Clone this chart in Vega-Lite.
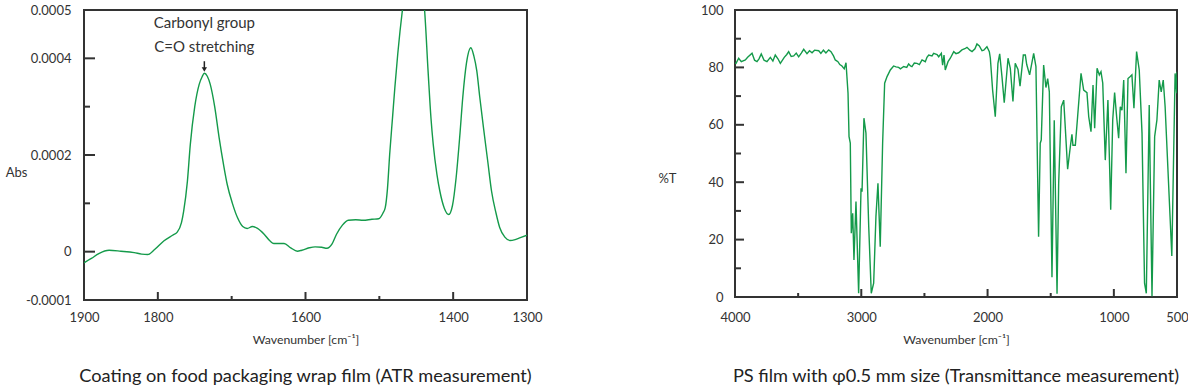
{
  "$schema": "https://vega.github.io/schema/vega-lite/v6.json",
  "padding": {"left": 4, "top": 3, "right": 0, "bottom": 0},
  "spacing": 112,
  "config": {
    "view": {"stroke": "#333", "strokeWidth": 2},
    "font": "Lato",
    "axis": {"domain": false, "ticks": false, "labelFont": "Lato", "labelFontSize": 13, "labelColor": "#333", "titleFont": "Lato", "titleColor": "#333", "titleFontWeight": "normal", "grid": false, "labelOverlap": false, "labelFlush": false},
    "title": {"font": "Lato", "fontSize": 18.2, "fontWeight": "normal", "color": "#222"}
  },
  "datasets": {
    "atr": [
      {"wn":1900,"abs":-0.000023},{"wn":1890,"abs":-0.000014},{"wn":1880,"abs":-0.000004},{"wn":1866,"abs":0.000003},{"wn":1850,"abs":0.000001},{"wn":1832,"abs":-0.000002},{"wn":1822,"abs":-0.000005},{"wn":1814,"abs":-0.000006},{"wn":1804,"abs":0.000005},{"wn":1792,"abs":0.000022},{"wn":1780,"abs":0.000034},{"wn":1774,"abs":0.000040},{"wn":1768,"abs":0.000060},{"wn":1765,"abs":0.000084},{"wn":1760,"abs":0.000145},{"wn":1756,"abs":0.000222},{"wn":1750,"abs":0.000300},{"wn":1744,"abs":0.000346},{"wn":1740,"abs":0.000362},{"wn":1737,"abs":0.000369},{"wn":1733,"abs":0.000363},{"wn":1729,"abs":0.000346},{"wn":1723,"abs":0.000300},{"wn":1717,"abs":0.000236},{"wn":1711,"abs":0.000180},{"wn":1706,"abs":0.000139},{"wn":1699,"abs":0.000100},{"wn":1692,"abs":0.000070},{"wn":1685,"abs":0.000052},{"wn":1679,"abs":0.000048},{"wn":1672,"abs":0.000052},{"wn":1665,"abs":0.000048},{"wn":1656,"abs":0.000036},{"wn":1648,"abs":0.000022},{"wn":1643,"abs":0.000017},{"wn":1635,"abs":0.000017},{"wn":1629,"abs":0.000017},{"wn":1620,"abs":0.000008},{"wn":1611,"abs":0.000001},{"wn":1605,"abs":0.000003},{"wn":1595,"abs":0.000008},{"wn":1587,"abs":0.000010},{"wn":1578,"abs":0.000009},{"wn":1571,"abs":0.000007},{"wn":1564,"abs":0.000016},{"wn":1558,"abs":0.000036},{"wn":1550,"abs":0.000055},{"wn":1542,"abs":0.000065},{"wn":1532,"abs":0.000066},{"wn":1522,"abs":0.000065},{"wn":1510,"abs":0.000067},{"wn":1501,"abs":0.000068},{"wn":1495,"abs":0.000080},{"wn":1492,"abs":0.000091},{"wn":1489,"abs":0.000130},{"wn":1486,"abs":0.000201},{"wn":1482,"abs":0.000280},{"wn":1479,"abs":0.000339},{"wn":1475,"abs":0.000410},{"wn":1472,"abs":0.000456},{"wn":1468,"abs":0.000510},{"wn":1462,"abs":0.000580},{"wn":1455,"abs":0.000620},{"wn":1448,"abs":0.000590},{"wn":1442,"abs":0.000540},{"wn":1439,"abs":0.000505},{"wn":1434,"abs":0.000374},{"wn":1430,"abs":0.000275},{"wn":1427,"abs":0.000222},{"wn":1422,"abs":0.000160},{"wn":1418,"abs":0.000125},{"wn":1412,"abs":0.000090},{"wn":1406,"abs":0.000077},{"wn":1401,"abs":0.000095},{"wn":1396,"abs":0.000153},{"wn":1391,"abs":0.000240},{"wn":1387,"abs":0.000319},{"wn":1382,"abs":0.000390},{"wn":1376,"abs":0.000422},{"wn":1372,"abs":0.000405},{"wn":1368,"abs":0.000374},{"wn":1364,"abs":0.000320},{"wn":1359,"abs":0.000257},{"wn":1353,"abs":0.000185},{"wn":1348,"abs":0.000125},{"wn":1342,"abs":0.000080},{"wn":1337,"abs":0.000050},{"wn":1330,"abs":0.000030},{"wn":1323,"abs":0.000023},{"wn":1316,"abs":0.000025},{"wn":1309,"abs":0.000029},{"wn":1300,"abs":0.000034}
    ],
    "ann": [
      {"wn":1737,"abs":0.000474,"label":"Carbonyl group"},
      {"wn":1737,"abs":0.000423,"label":"C=O stretching"}
    ],
    "arrow": [{"wn":1737,"top":0.000394,"bottom":0.000380,"head":0.000377}],
    "atrXMajor": [{"wn":1800},{"wn":1600},{"wn":1400}],
    "atrXMinor": [{"wn":1700},{"wn":1500}],
    "atrYMajor": [{"abs":0},{"abs":0.0002},{"abs":0.0004}],
    "atrYMinor": [{"abs":0.0001},{"abs":0.0003}],
    "psXMajor": [{"wn":3000},{"wn":2000},{"wn":1000}],
    "psXMinor": [{"wn":3500},{"wn":2500},{"wn":1500}],
    "psYMajor": [{"t":20},{"t":40},{"t":60},{"t":80}],
    "psYMinor": [{"t":10},{"t":30},{"t":50},{"t":70},{"t":90}],
    "ps": [
      {"wn":4000,"t":81.5},{"wn":3992,"t":81.4},{"wn":3971,"t":83.2},{"wn":3950,"t":82.0},{"wn":3918,"t":82.6},{"wn":3900,"t":83.5},{"wn":3865,"t":84.9},{"wn":3845,"t":82.5},{"wn":3826,"t":82.0},{"wn":3810,"t":83.0},{"wn":3792,"t":84.7},{"wn":3770,"t":82.5},{"wn":3747,"t":82.0},{"wn":3720,"t":83.5},{"wn":3700,"t":82.2},{"wn":3681,"t":84.3},{"wn":3660,"t":83.0},{"wn":3641,"t":81.4},{"wn":3610,"t":83.5},{"wn":3590,"t":84.5},{"wn":3575,"t":85.5},{"wn":3555,"t":83.8},{"wn":3535,"t":84.0},{"wn":3515,"t":85.0},{"wn":3496,"t":83.7},{"wn":3475,"t":85.0},{"wn":3456,"t":86.3},{"wn":3430,"t":84.8},{"wn":3410,"t":85.8},{"wn":3390,"t":85.1},{"wn":3370,"t":86.0},{"wn":3337,"t":85.8},{"wn":3320,"t":84.9},{"wn":3300,"t":86.0},{"wn":3280,"t":85.0},{"wn":3258,"t":86.1},{"wn":3240,"t":85.5},{"wn":3220,"t":84.0},{"wn":3206,"t":82.6},{"wn":3185,"t":82.0},{"wn":3170,"t":81.0},{"wn":3153,"t":80.5},{"wn":3135,"t":79.5},{"wn":3121,"t":81.6},{"wn":3105,"t":71.0},{"wn":3097,"t":55.9},{"wn":3087,"t":53.6},{"wn":3079,"t":22.2},{"wn":3068,"t":29.2},{"wn":3058,"t":12.9},{"wn":3042,"t":33.3},{"wn":3021,"t":1.3},{"wn":3002,"t":37.9},{"wn":2994,"t":36.7},{"wn":2979,"t":62.3},{"wn":2963,"t":57.1},{"wn":2941,"t":24.5},{"wn":2921,"t":1.3},{"wn":2902,"t":4.8},{"wn":2884,"t":28.0},{"wn":2868,"t":39.6},{"wn":2850,"t":17.5},{"wn":2831,"t":53.6},{"wn":2815,"t":74.5},{"wn":2796,"t":76.8},{"wn":2770,"t":79.1},{"wn":2744,"t":80.5},{"wn":2725,"t":80.2},{"wn":2704,"t":80.0},{"wn":2690,"t":79.5},{"wn":2664,"t":80.3},{"wn":2640,"t":80.0},{"wn":2625,"t":81.2},{"wn":2610,"t":80.5},{"wn":2599,"t":80.3},{"wn":2580,"t":81.5},{"wn":2559,"t":81.4},{"wn":2540,"t":81.0},{"wn":2519,"t":82.6},{"wn":2493,"t":82.0},{"wn":2480,"t":83.5},{"wn":2466,"t":84.3},{"wn":2440,"t":84.0},{"wn":2427,"t":84.9},{"wn":2400,"t":84.5},{"wn":2387,"t":83.7},{"wn":2366,"t":84.9},{"wn":2356,"t":80.8},{"wn":2345,"t":84.3},{"wn":2335,"t":79.1},{"wn":2313,"t":82.0},{"wn":2295,"t":83.2},{"wn":2268,"t":85.5},{"wn":2250,"t":84.8},{"wn":2229,"t":85.1},{"wn":2203,"t":86.1},{"wn":2180,"t":86.5},{"wn":2163,"t":87.0},{"wn":2140,"t":86.0},{"wn":2123,"t":85.5},{"wn":2100,"t":86.5},{"wn":2084,"t":88.2},{"wn":2065,"t":87.5},{"wn":2044,"t":85.8},{"wn":2030,"t":86.0},{"wn":2005,"t":87.2},{"wn":1986,"t":85.5},{"wn":1978,"t":83.2},{"wn":1960,"t":72.1},{"wn":1939,"t":62.8},{"wn":1918,"t":81.4},{"wn":1904,"t":84.7},{"wn":1886,"t":76.8},{"wn":1868,"t":67.7},{"wn":1838,"t":83.2},{"wn":1820,"t":79.7},{"wn":1799,"t":68.1},{"wn":1781,"t":81.4},{"wn":1759,"t":79.3},{"wn":1743,"t":73.5},{"wn":1717,"t":84.3},{"wn":1701,"t":84.3},{"wn":1690,"t":81.0},{"wn":1667,"t":77.4},{"wn":1635,"t":84.9},{"wn":1617,"t":80.3},{"wn":1596,"t":21.0},{"wn":1583,"t":53.6},{"wn":1575,"t":54.7},{"wn":1556,"t":80.8},{"wn":1538,"t":73.0},{"wn":1524,"t":76.1},{"wn":1511,"t":71.5},{"wn":1490,"t":6.9},{"wn":1472,"t":61.6},{"wn":1450,"t":1.1},{"wn":1437,"t":39.6},{"wn":1416,"t":66.3},{"wn":1397,"t":68.6},{"wn":1385,"t":59.3},{"wn":1366,"t":44.5},{"wn":1345,"t":52.3},{"wn":1332,"t":56.7},{"wn":1324,"t":52.9},{"wn":1305,"t":52.9},{"wn":1287,"t":62.8},{"wn":1260,"t":77.9},{"wn":1239,"t":72.1},{"wn":1213,"t":71.2},{"wn":1199,"t":62.8},{"wn":1181,"t":57.6},{"wn":1165,"t":73.9},{"wn":1152,"t":58.8},{"wn":1133,"t":79.7},{"wn":1115,"t":77.4},{"wn":1102,"t":78.5},{"wn":1088,"t":74.5},{"wn":1068,"t":47.7},{"wn":1047,"t":68.6},{"wn":1025,"t":30.4},{"wn":1009,"t":61.7},{"wn":994,"t":71.2},{"wn":978,"t":62.8},{"wn":962,"t":55.3},{"wn":949,"t":66.3},{"wn":936,"t":65.1},{"wn":922,"t":75.6},{"wn":904,"t":43.1},{"wn":888,"t":76.1},{"wn":870,"t":76.8},{"wn":857,"t":77.4},{"wn":841,"t":65.8},{"wn":820,"t":85.5},{"wn":799,"t":79.1},{"wn":777,"t":57.1},{"wn":757,"t":4.8},{"wn":743,"t":1.3},{"wn":720,"t":66.9},{"wn":698,"t":0.3},{"wn":677,"t":55.9},{"wn":659,"t":61.7},{"wn":641,"t":75.6},{"wn":625,"t":71.5},{"wn":609,"t":75.6},{"wn":594,"t":66.3},{"wn":541,"t":14.3},{"wn":515,"t":77.9},{"wn":503,"t":71.0},{"wn":500,"t":78.5}
    ]
  },
  "hconcat": [
    {
      "width": 443,
      "height": 290,
      "title": {"text": "Coating on food packaging wrap film (ATR measurement)", "orient": "bottom", "anchor": "middle", "offset": 23},
      "layer": [
        {
          "data": {"name": "atr"},
          "mark": {"type": "line", "color": "#149a4a", "strokeWidth": 1.4, "clip": true, "interpolate": "monotone"},
          "encoding": {
            "x": {"field": "wn", "type": "quantitative",
              "scale": {"domain": [1300, 1900], "reverse": true, "nice": false, "zero": false},
              "axis": {"values": [1900,1800,1600,1400,1300], "format": "d",
                "labelPadding": 11, "title": "Wavenumber [cm⁻¹]", "titleFontSize": 12.3, "titlePadding": 9}},
            "y": {"field": "abs", "type": "quantitative",
              "scale": {"domain": [-0.0001, 0.0005], "nice": false, "zero": false},
              "axis": {"values": [-0.0001,0,0.0002,0.0004,0.0005],
                "labelExpr": "datum.value === 0.0005 ? '0.0005' : datum.value === 0.0004 ? '0.0004' : datum.value === 0.0002 ? '0.0002' : datum.value === 0 ? '0' : '-0.0001'",
                "labelPadding": 13, "title": "Abs", "titleAngle": 0, "titleX": -68, "titleY": 162, "titleAlign": "center", "titleBaseline": "middle", "titleFontSize": 13}}
          }
        },
        {
          "data": {"name": "atrXMajor"},
          "mark": {"type": "rule", "color": "#333", "strokeWidth": 2, "y2Offset": -8},
          "encoding": {
            "x": {"field": "wn", "type": "quantitative"},
            "y": {"datum": -0.0001, "type": "quantitative"},
            "y2": {"datum": -0.0001}
          }
        },
        {
          "data": {"name": "atrXMinor"},
          "mark": {"type": "rule", "color": "#333", "strokeWidth": 2, "y2Offset": -4},
          "encoding": {
            "x": {"field": "wn", "type": "quantitative"},
            "y": {"datum": -0.0001, "type": "quantitative"},
            "y2": {"datum": -0.0001}
          }
        },
        {
          "data": {"name": "atrYMajor"},
          "mark": {"type": "rule", "color": "#333", "strokeWidth": 2, "x2Offset": 11},
          "encoding": {
            "y": {"field": "abs", "type": "quantitative"},
            "x": {"datum": 1900, "type": "quantitative"},
            "x2": {"datum": 1900}
          }
        },
        {
          "data": {"name": "atrYMinor"},
          "mark": {"type": "rule", "color": "#333", "strokeWidth": 2, "x2Offset": 6},
          "encoding": {
            "y": {"field": "abs", "type": "quantitative"},
            "x": {"datum": 1900, "type": "quantitative"},
            "x2": {"datum": 1900}
          }
        },
        {
          "data": {"name": "ann"},
          "mark": {"type": "text", "font": "Lato", "fontSize": 15, "color": "#333", "align": "center", "baseline": "middle"},
          "encoding": {
            "x": {"field": "wn", "type": "quantitative"},
            "y": {"field": "abs", "type": "quantitative"},
            "text": {"field": "label"}
          }
        },
        {
          "data": {"name": "arrow"},
          "mark": {"type": "rule", "color": "#222", "strokeWidth": 1.5},
          "encoding": {
            "x": {"field": "wn", "type": "quantitative"},
            "y": {"field": "top", "type": "quantitative"},
            "y2": {"field": "bottom"}
          }
        },
        {
          "data": {"name": "arrow"},
          "mark": {"type": "point", "shape": "triangle-down", "filled": true, "color": "#222", "size": 28, "opacity": 1},
          "encoding": {
            "x": {"field": "wn", "type": "quantitative"},
            "y": {"field": "head", "type": "quantitative"}
          }
        }
      ]
    },
    {
      "width": 442,
      "height": 287,
      "title": {"text": "PS film with φ0.5 mm size (Transmittance measurement)", "orient": "bottom", "anchor": "middle", "offset": 23},
      "layer": [
        {
          "data": {"name": "ps"},
          "mark": {"type": "line", "color": "#149a4a", "strokeWidth": 1.4, "clip": true},
          "encoding": {
            "x": {"field": "wn", "type": "quantitative",
              "scale": {"domain": [500, 4000], "reverse": true, "nice": false, "zero": false},
              "axis": {"values": [4000,3000,2000,1000,500], "format": "d",
                "labelPadding": 14, "title": "Wavenumber [cm⁻¹]", "titleFontSize": 12.3, "titlePadding": 9}},
            "y": {"field": "t", "type": "quantitative",
              "scale": {"domain": [0, 100], "nice": false},
              "axis": {"values": [0,20,40,60,80,100],
                "labelPadding": 12, "title": "%T", "titleAngle": 0, "titleX": -68, "titleY": 168, "titleAlign": "center", "titleBaseline": "middle", "titleFontSize": 13}}
          }
        },
        {
          "data": {"name": "psXMajor"},
          "mark": {"type": "rule", "color": "#333", "strokeWidth": 2, "y2Offset": -8},
          "encoding": {
            "x": {"field": "wn", "type": "quantitative"},
            "y": {"datum": 0, "type": "quantitative"},
            "y2": {"datum": 0}
          }
        },
        {
          "data": {"name": "psXMinor"},
          "mark": {"type": "rule", "color": "#333", "strokeWidth": 2, "y2Offset": -4},
          "encoding": {
            "x": {"field": "wn", "type": "quantitative"},
            "y": {"datum": 0, "type": "quantitative"},
            "y2": {"datum": 0}
          }
        },
        {
          "data": {"name": "psYMajor"},
          "mark": {"type": "rule", "color": "#333", "strokeWidth": 2, "x2Offset": 9},
          "encoding": {
            "y": {"field": "t", "type": "quantitative"},
            "x": {"datum": 4000, "type": "quantitative"},
            "x2": {"datum": 4000}
          }
        },
        {
          "data": {"name": "psYMinor"},
          "mark": {"type": "rule", "color": "#333", "strokeWidth": 2, "x2Offset": 6},
          "encoding": {
            "y": {"field": "t", "type": "quantitative"},
            "x": {"datum": 4000, "type": "quantitative"},
            "x2": {"datum": 4000}
          }
        }
      ]
    }
  ]
}
